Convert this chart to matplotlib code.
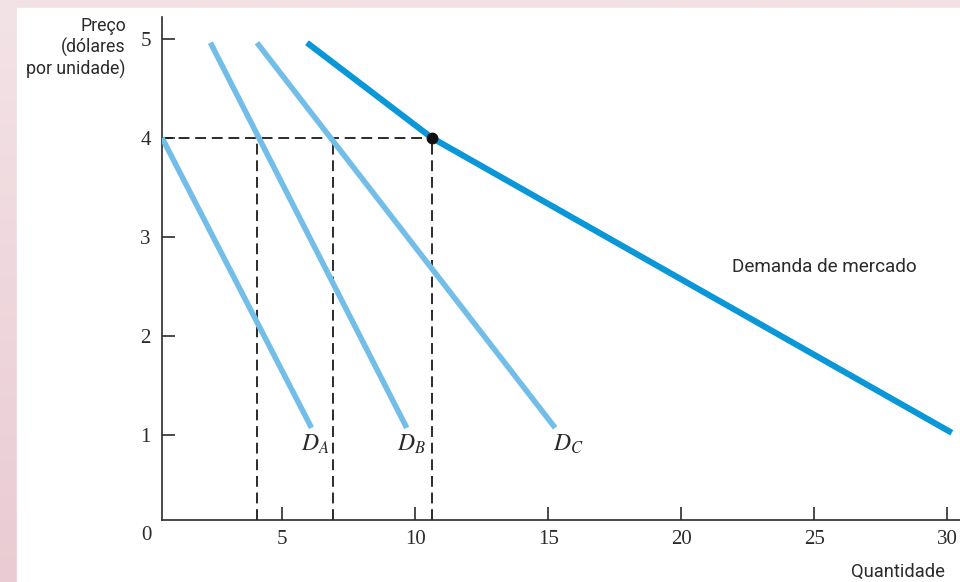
import matplotlib

matplotlib.use("Agg")
import matplotlib.pyplot as plt
import numpy as np
from matplotlib.patches import Rectangle

# quantity / price points
DA_Q = [0.48, 6.10]
DA_P = [4.00, 1.07]
DB_Q = [2.30, 9.68]
DB_P = [4.96, 1.07]
DC_Q = [4.05, 15.26]
DC_P = [4.96, 1.07]
MARKET_Q = [5.93, 10.62, 30.17]
MARKET_P = [4.96, 4.00, 1.02]

PRICE_LEVEL = 4.0
QTY_AT_PRICE = [4.05, 6.90, 10.62]

X_TICKS = [5, 10, 15, 20, 25, 30]
Y_TICKS = [1, 2, 3, 4, 5]
CURVE_LABELS = [r"$D_A$", r"$D_B$", r"$D_C$"]

LIGHT = "#72BEE8"
DARK = "#0A97D8"
INK = "#2b2b2b"

plt.rcParams.update(
    {
        "mathtext.fontset": "stix",
        "font.family": ["Liberation Serif", "DejaVu Serif"],
    }
)
SANS = ["Roboto", "DejaVu Sans"]

fig = plt.figure(figsize=(9.6, 5.82), dpi=100)

# pink frame with a soft vertical gradient, white panel on top
bg = fig.add_axes([0, 0, 1, 1], zorder=-10)
top = np.array([0xF3, 0xE3, 0xE6]) / 255.0
bot = np.array([0xEA, 0xCB, 0xD3]) / 255.0
t = np.linspace(0, 1, 256)[:, None]
grad = top[None, :] * (1 - t) + bot[None, :] * t
bg.imshow(grad[:, None, :], aspect="auto", extent=[0, 1, 0, 1])
bg.add_patch(Rectangle((17 / 960, 0), 1, 1 - 8 / 582, color="white", transform=bg.transAxes))
bg.set_axis_off()

ax = fig.add_axes([162 / 960, (582 - 520) / 582, (960 - 162) / 960, (520 - 17) / 582])
ax.set_facecolor("none")
ax.set_xlim(0.48, 30.48)
ax.set_ylim(0.139, 5.22)

for q, p in [(DA_Q, DA_P), (DB_Q, DB_P), (DC_Q, DC_P)]:
    ax.plot(q, p, color=LIGHT, lw=4.0, solid_capstyle="butt", zorder=3)
ax.plot(MARKET_Q, MARKET_P, color=DARK, lw=4.4, solid_capstyle="butt", solid_joinstyle="round", zorder=4)

dash = dict(color="#1a1a1a", lw=1.3, dashes=(6.0, 3.2), zorder=2)
ax.plot([ax.get_xlim()[0], QTY_AT_PRICE[-1]], [PRICE_LEVEL, PRICE_LEVEL], **dash)
for q in QTY_AT_PRICE:
    ax.plot([q, q], [ax.get_ylim()[0], PRICE_LEVEL], **dash)
ax.plot([QTY_AT_PRICE[-1]], [PRICE_LEVEL], "o", color="#111111", ms=7.5, zorder=5)

for lab, (qx, py) in zip(CURVE_LABELS, [(5.70, 0.90), (9.30, 0.90), (15.17, 0.90)]):
    ax.text(qx, py, lab, fontsize=17, color=INK, ha="left", va="center")

ax.text(21.9, 2.69, "Demanda de mercado", family=SANS, fontsize=13.6, color=INK, va="center")

for s in ["top", "right"]:
    ax.spines[s].set_visible(False)
for s in ["left", "bottom"]:
    ax.spines[s].set_color(INK)
    ax.spines[s].set_linewidth(1.2)

ax.set_xticks(X_TICKS)
ax.set_yticks(Y_TICKS)
ax.tick_params(direction="in", length=9.2, width=1.2, color=INK, labelcolor=INK, labelsize=15)
ax.tick_params(axis="y", pad=8)
ax.tick_params(axis="x", pad=7)

ax.annotate("0", xy=(0, 0), xycoords="axes fraction", xytext=(-7.5, -11.5),
            textcoords="offset points", ha="right", va="center", fontsize=15, color=INK)

fig.text(126 / 960, 1 - 17 / 582, "Preço\n(dólares\npor unidade)", family=SANS, fontsize=12.8,
         color=INK, ha="right", va="top", linespacing=1.2)
fig.text(945 / 960, 1 - 572 / 582, "Quantidade", family=SANS, fontsize=13.2, color=INK,
         ha="right", va="center")

fig.savefig("out.png", dpi=100)
